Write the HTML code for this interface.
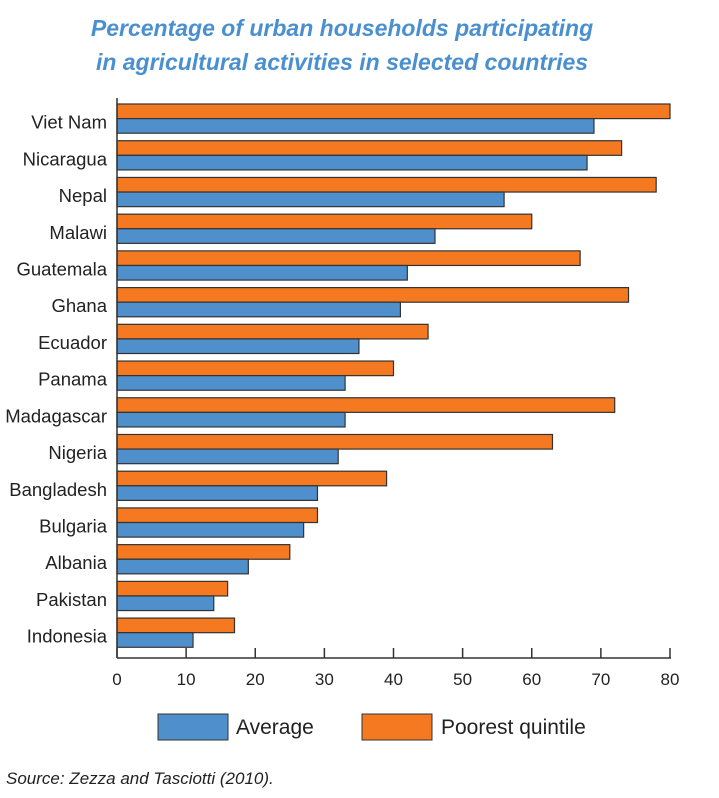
<!DOCTYPE html>
<html><head><meta charset="utf-8"><style>
body{margin:0;background:#fff;width:719px;height:798px;overflow:hidden;font-family:"Liberation Sans",sans-serif}
svg{display:block}
</style></head><body>
<svg id="c" width="719" height="798">
<text x="342" y="36" text-anchor="middle" font-size="23" font-style="italic" font-weight="bold" fill="#4a90d0">Percentage of urban households participating</text>
<text x="342" y="70" text-anchor="middle" font-size="23" font-style="italic" font-weight="bold" fill="#4a90d0">in agricultural activities in selected countries</text>
<g id="bars"></g>
<g id="axes"></g>
<rect x="158" y="714" width="70" height="26" fill="#4F8FCB" stroke="#333"/>
<text x="236" y="734" font-size="21" fill="#222">Average</text>
<rect x="362" y="714" width="70" height="26" fill="#F47920" stroke="#333"/>
<text x="441" y="734" font-size="21" fill="#222">Poorest quintile</text>
<text x="6" y="784" font-size="17" font-style="italic" fill="#222">Source: Zezza and Tasciotti (2010).</text>
</svg>
<script>
const countries=["Viet Nam","Nicaragua","Nepal","Malawi","Guatemala","Ghana","Ecuador","Panama","Madagascar","Nigeria","Bangladesh","Bulgaria","Albania","Pakistan","Indonesia"];
const averageValues=[69,68,56,46,42,41,35,33,33,32,29,27,19,14,11];
const poorestValues=[80,73,78,60,67,74,45,40,72,63,39,29,25,16,17];
const xTicks=[0,10,20,30,40,50,60,70,80];
const NS="http://www.w3.org/2000/svg";
const x0=117,x1=670,xmax=80,top0=104,pitch=36.72,bh=14.6;
const xs=v=>x0+(v/xmax)*(x1-x0);
const ys=i=>top0+i*pitch;
function mk(t,a){const e=document.createElementNS(NS,t);for(const k in a)e.setAttribute(k,a[k]);return e;}
const bars=document.getElementById('bars'),axes=document.getElementById('axes');
countries.forEach((c,i)=>{
 const y=ys(i);
 const o=mk('rect',{x:x0,y:y,width:xs(poorestValues[i])-x0,height:bh,fill:'#F47920',stroke:'#333','stroke-width':1.2});
 
 
 bars.appendChild(o);
 const b=mk('rect',{x:x0,y:y+bh,width:xs(averageValues[i])-x0,height:bh,fill:'#4F8FCB',stroke:'#333','stroke-width':1.2});
 
 
 bars.appendChild(b);
 const t=mk('text',{x:107,y:y+bh+10,'text-anchor':'end','font-size':18.5,fill:'#222'});
 t.textContent=c;
 
 
 axes.appendChild(t);
});
const ya=mk('line',{x1:x0,y1:98,x2:x0,y2:658,stroke:'#333','stroke-width':1.5});


axes.appendChild(ya);
const xa=mk('line',{x1:x0,y1:658,x2:x1+1,y2:658,stroke:'#333','stroke-width':1.5});


axes.appendChild(xa);
xTicks.forEach(v=>{
 const l=mk('line',{x1:xs(v),y1:648,x2:xs(v),y2:658,stroke:'#333','stroke-width':1.5});
 
 
 axes.appendChild(l);
 const t=mk('text',{x:xs(v),y:685,'text-anchor':'middle','font-size':17,fill:'#222'});
 t.textContent=v;
 
 
 axes.appendChild(t);
});
</script>
</body></html>
